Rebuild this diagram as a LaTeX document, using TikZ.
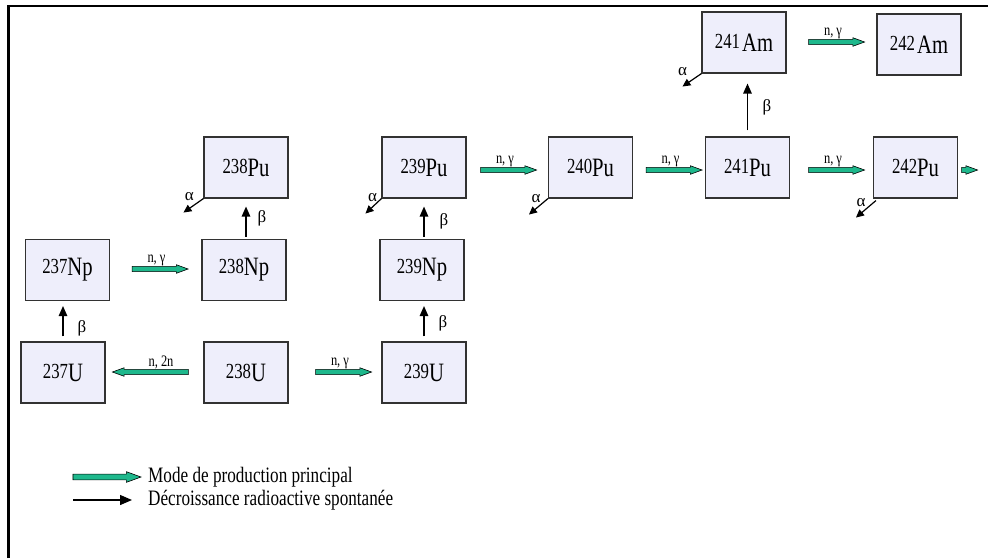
\documentclass[tikz,border=0pt]{standalone}
\usepackage{fontspec}
\setmainfont[FakeStretch=0.78]{Liberation Serif}
\newfontfamily\greekf{Liberation Serif}
\usetikzlibrary{shapes.arrows,arrows.meta,calc}
\definecolor{boxfill}{RGB}{238,238,251}
\definecolor{garrowc}{RGB}{30,184,140}
\definecolor{boxline}{RGB}{50,50,50}
\newcommand{\iso}[3][0pt]{\raisebox{2.5pt}{\fontsize{21.5}{21.5}\selectfont #2}\kern#1{\fontsize{26.5}{26.5}\selectfont #3}}
\tikzset{
 isobox/.style={draw=boxline, line width=1.1pt, fill=boxfill, minimum width=84pt, minimum height=61pt, inner sep=0pt},
 garrow/.style={single arrow, draw=black, line width=0.6pt, fill=garrowc, inner xsep=0pt, inner ysep=2.2pt, minimum width=8.5pt, single arrow head extend=1.6pt, single arrow tip angle=40, minimum height=56pt},
 decay/.style={-{Triangle[length=10pt,width=8.5pt]}, line width=1.3pt},
 adecay/.style={-{Triangle[length=8pt,width=7.5pt]}, line width=1.2pt},
 rlabel/.style={font=\greekf\fontsize{17}{17}\selectfont, inner sep=0pt},
 alabel/.style={font=\fontsize{16}{16}\selectfont, inner sep=0pt},
 legtext/.style={anchor=west, font=\fontsize{22}{22}\selectfont, inner sep=0pt},
}
\begin{document}
\begin{tikzpicture}[x=1pt,y=-1pt]
\useasboundingbox (0,0) rectangle (988,558);
\fill[white] (0,0) rectangle (988,558);
% frame
\draw[line width=2.6pt] (8.7,558) -- (8.7,6) -- (988,6);
% boxes
\node[isobox] (np237) at (67.5,270) {\iso{237}{Np}};
\node[isobox] (np238) at (244,270) {\iso{238}{Np}};
\node[isobox] (pu238) at (246,167.5) {\iso{238}{Pu}};
\node[isobox] (u237) at (63,372.5) {\iso{237}{U}};
\node[isobox] (u238) at (246,372.5) {\iso{238}{U}};
\node[isobox] (u239) at (424,372.5) {\iso{239}{U}};
\node[isobox] (np239) at (422,270) {\iso{239}{Np}};
\node[isobox] (pu239) at (424,167.5) {\iso{239}{Pu}};
\node[isobox] (pu240) at (590.5,167.5) {\iso{240}{Pu}};
\node[isobox] (pu241) at (747.5,167.5) {\iso{241}{Pu}};
\node[isobox] (pu242) at (915.5,167.5) {\iso{242}{Pu}};
\node[isobox] (am241) at (744,42.5) {\iso[2pt]{241}{Am}};
\node[isobox] (am242) at (919,44.5) {\iso[2pt]{242}{Am}};
% green production arrows
\node[garrow, label={[alabel]above:{n, γ}}] (g1) at (156.5,269) {};
\node[garrow, minimum height=76pt, shape border rotate=180, label={[alabel,xshift=7pt]above:{n, 2n}}] (g2) at (154,372) {};
\node[garrow, label={[alabel]above:{n, γ}}] (g3) at (340,372) {};
\node[garrow, label={[alabel]above:{n, γ}}] (g4) at (505,170) {};
\node[garrow, label={[alabel]above:{n, γ}}] (g5) at (670.5,170) {};
\node[garrow, label={[alabel]above:{n, γ}}] (g6) at (833,170) {};
\node[garrow, label={[alabel]above:{n, γ}}] (g7) at (833,42) {};
\node[garrow, minimum height=16pt] (g8) at (966,170) {};
% beta decays
\draw[decay, shorten <=5pt, shorten >=5pt] (u237.north) -- (u237.north |- np237.south);
\node[rlabel] (b1) at (82,328) {β};
\draw[decay, shorten <=5pt, shorten >=5pt] (u239.north) -- (u239.north |- np239.south);
\node[rlabel] (b2) at (443,323) {β};
\draw[decay, shorten <=2pt, shorten >=8pt] (pu238.south |- np238.north) -- (pu238.south);
\node[rlabel] (b3) at (262,218) {β};
\draw[decay, shorten <=2pt, shorten >=8pt] (pu239.south |- np239.north) -- (pu239.south);
\node[rlabel] (b4) at (444,221) {β};
\draw[decay, shorten <=6pt, shorten >=10pt] (pu241.north) -- (pu241.north |- am241.south);
\node[rlabel] (b5) at (767,107) {β};
% alpha decays
\draw[adecay] (pu238.south west) -- ++(-20,14);
\node[rlabel] (a1) at ($(pu238.south west)+(-14,-2)$) {α};
\draw[adecay] (pu239.south west) -- ++(-16,15);
\node[rlabel] (a2) at ($(pu239.south west)+(-9,-1)$) {α};
\draw[adecay] (pu240.south west) -- ++(-19,16);
\node[rlabel] (a3) at ($(pu240.south west)+(-12,0)$) {α};
\draw[adecay] (am241.south west) -- ++(-19,13);
\node[rlabel] (a4) at ($(am241.south west)+(-19,-2)$) {α};
\draw[adecay] ($(pu242.south west)+(3,2)$) -- ++(-20,17);
\node[rlabel] (a5) at ($(pu242.south west)+(-12,4)$) {α};
% legend
\node[garrow, minimum height=68pt, minimum width=10pt, inner ysep=2.6pt, single arrow head extend=2.4pt] (lg) at (103,477) {};
\node[legtext] (t1) at (148,477) {Mode de production principal};
\coordinate (lb1) at (73,500);
\coordinate (lb2) at (132,500);
\draw[-{Triangle[length=12pt,width=10pt]}, line width=1.3pt] (lb1) -- (lb2);
\node[legtext] (t2) at (148,500) {Décroissance radioactive spontanée};
\end{tikzpicture}
\end{document}
